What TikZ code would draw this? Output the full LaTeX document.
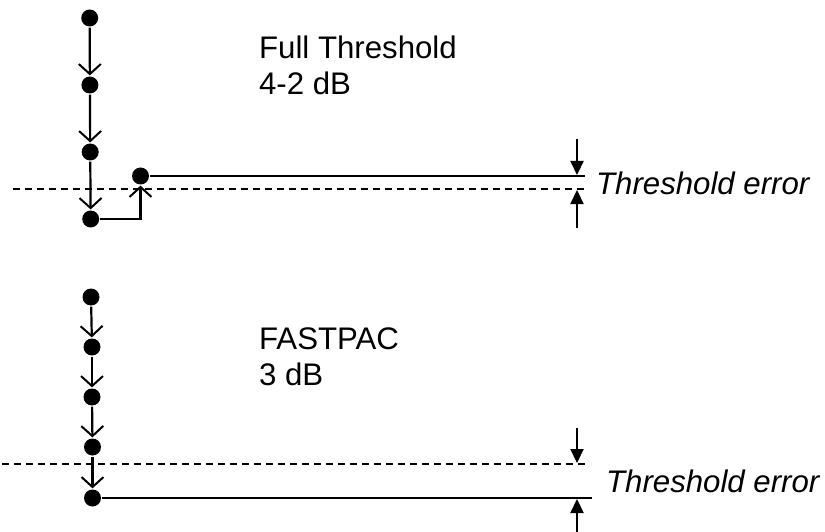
\documentclass[tikz,border=0pt]{standalone}
\usepackage{fontspec}
\setmainfont{Liberation Sans}
\usepackage{tikz}
\usetikzlibrary{positioning,arrows.meta}

\begin{document}
\begin{tikzpicture}[x=1pt,y=-1pt,line width=2.2pt,
    dot/.style={circle,fill,inner sep=0pt,minimum size=17pt},
    stepline/.style={-{Straight Barb[length=10pt,width=22pt,line width=2pt]}},
    errarrow/.style={-{Triangle[length=14pt,width=13pt]}},
    dashline/.style={dash pattern=on 7pt off 5pt},
    lbl/.style={inner sep=0pt,align=left,font=\fontsize{31.2}{36}\selectfont}]
    \useasboundingbox (0,0) rectangle (825,532);

    \node[dot] (a1) at (89.7,18) {};
    \node[dot] (a2) at (89.9,85) {};
    \node[dot] (a3) at (90.2,152) {};
    \node[dot] (a4) at (90.7,219) {};
    \node[dot] (s) at (140.5,176) {};
    \coordinate (send) at (585,176);
    \coordinate (dl) at (13,189);
    \coordinate (dr) at (588,189);

    \draw[stepline] (a1) -- (a2);
    \draw[stepline] (a2) -- (a3);
    \draw[stepline] (a3) -- (a4);
    \draw[stepline] (a4) -| (s);
    \draw (s) -- (send);
    \draw[dashline] (dl) -- (dr);

    \coordinate (t1) at (577,139);
    \coordinate (t2) at (577,175);
    \coordinate (t3) at (577,228);
    \coordinate (t4) at (577,190);
    \draw[errarrow] (t1) -- (t2);
    \draw[errarrow] (t3) -- (t4);

    \node[lbl,anchor=north west] (full) at (258,34.5) {Full Threshold\\4-2 dB};
    \node[lbl,anchor=base west] (err1) at (595,195) {\itshape Threshold error};

    \node[dot] (b1) at (91,297) {};
    \node[dot] (b2) at (92,347) {};
    \node[dot] (b3) at (92,397) {};
    \node[dot] (b4) at (92.5,447) {};
    \node[dot] (b5) at (92.5,498) {};
    \coordinate (bend) at (592,498);
    \coordinate (el) at (2,464);
    \coordinate (er) at (588,464);

    \draw[stepline] (b1) -- (b2);
    \draw[stepline] (b2) -- (b3);
    \draw[stepline] (b3) -- (b4);
    \draw[stepline] (b4) -- (b5);
    \draw (b5) -- (bend);
    \draw[dashline] (el) -- (er);

    \coordinate (u1) at (577,428);
    \coordinate (u2) at (577,463);
    \coordinate (u3) at (577,535);
    \coordinate (u4) at (577,499);
    \draw[errarrow] (u1) -- (u2);
    \draw[errarrow] (u3) -- (u4);

    \node[lbl,anchor=north west] (fast) at (258,326.5) {FASTPAC\\3 dB};
    \node[lbl,anchor=base west] (err2) at (605,492) {\itshape Threshold error};
\end{tikzpicture}
\end{document}
